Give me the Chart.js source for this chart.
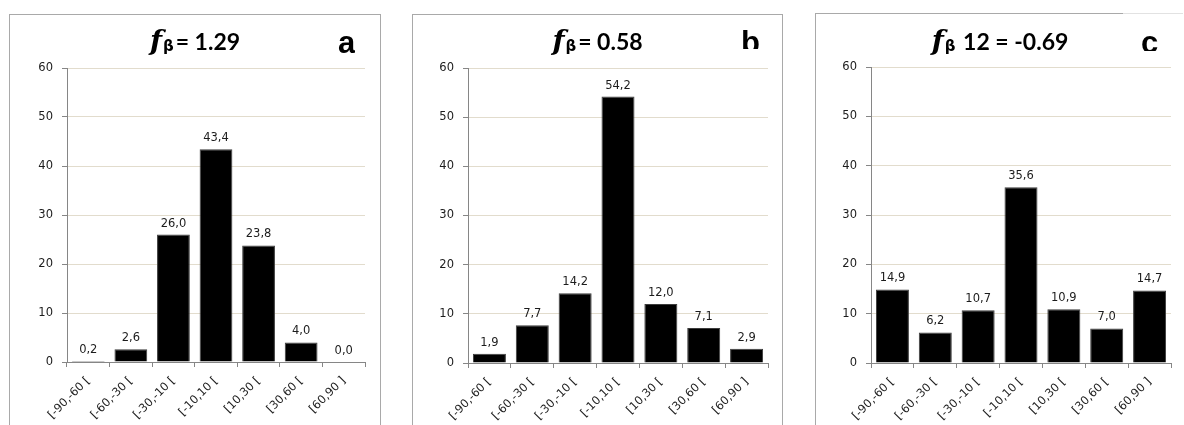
<!DOCTYPE html>
<html>
<head>
<meta charset="utf-8">
<script src="https://cdn.jsdelivr.net/npm/chart.js@4.4.1/dist/chart.umd.min.js"></script>
<style>
  html, body { margin: 0; padding: 0; background: #fff; }
  #wrap { position: relative; width: 1184px; height: 425px; overflow: hidden; background: #fff; }
  .frame { position: absolute; box-sizing: border-box; border: 1px solid #a9a9a9; border-bottom: none; height: 430px; }
  .line { position: absolute; height: 1px; }
  canvas { position: absolute; }
  .title { position: absolute; white-space: nowrap; text-align: center; line-height: 30px; height: 30px; color: #000; }
  .title .f { font-family: "DejaVu Serif", serif; font-weight: bold; font-style: italic; font-size: 28px; }
  .title .beta { font-family: "DejaVu Sans", sans-serif; font-weight: bold; font-size: 15px; position: relative; top: 1px; margin-left: 1px; }
  .title .eq { font-family: Lato, "Open Sans", sans-serif; font-weight: bold; font-size: 23px; margin-left: 2px; }
  .letter { position: absolute; overflow: hidden; font-family: "Liberation Sans", Arial, sans-serif; font-weight: bold; font-size: 31px; line-height: 34px; color: #000; }
</style>
</head>
<body>
<div id="wrap"></div>
<script>
// Angle classes shared by the three histograms
const categories = ['[-90,-60 [', '[-60,-30 [', '[-30,-10 [', '[-10,10 [', '[10,30 [', '[30,60 [', '[60,90 ]'];

// Percentage of cases in each class
const valuesA = [0.2, 2.6, 26.0, 43.4, 23.8, 4.0, 0.0];
const valuesB = [1.9, 7.7, 14.2, 54.2, 12.0, 7.1, 2.9];
const valuesC = [14.9, 6.2, 10.7, 35.6, 10.9, 7.0, 14.7];

// Headings and panel letters
const subscriptLabels = ['', '', ' 12'];
const titleValues = ['= 1.29', '= 0.58', ' = -0.69'];
const panelLetters = ['a', 'b', 'c'];

// Value axis
const yMax = 60;
const yStep = 10;

const panelData = [valuesA, valuesB, valuesC];

// Geometry of each panel on the page
const layout = [
  { frameL: 9,   frameW: 372, frameT: 14, canvasL: 10,  canvasW: 369, plotL: 67,  plotR: 365,  plotT: 68, plotB: 362, letterL: 338, letterH: 34 },
  { frameL: 412, frameW: 371, frameT: 14, canvasL: 413, canvasW: 369, plotL: 468, plotR: 768,  plotT: 68, plotB: 363, letterL: 741, letterH: 23 },
  { frameL: 815, frameW: 400, frameT: 13, canvasL: 816, canvasW: 368, plotL: 871, plotR: 1171, plotT: 67, plotB: 363, letterL: 1141, letterH: 25 }
];

const wrap = document.getElementById('wrap');
const fmt = v => v.toFixed(1).replace('.', ',');
const textFont = '"DejaVu Sans", Verdana, sans-serif';

// Value labels above each bar
const valueLabels = {
  id: 'valueLabels',
  afterDatasetsDraw(chart) {
    const ctx = chart.ctx;
    const meta = chart.getDatasetMeta(0);
    const data = chart.data.datasets[0].data;
    ctx.save();
    ctx.font = '11.5px ' + textFont;
    ctx.fillStyle = '#1c1c1c';
    ctx.textAlign = 'center';
    ctx.textBaseline = 'alphabetic';
    meta.data.forEach((bar, i) => {
      ctx.fillText(fmt(data[i]), bar.x, bar.y - 8);
    });
    ctx.restore();
  }
};

panelData.forEach((values, p) => {
  const L = layout[p];

  const frame = document.createElement('div');
  frame.className = 'frame';
  frame.style.left = L.frameL + 'px';
  frame.style.top = L.frameT + 'px';
  frame.style.width = L.frameW + 'px';
  if (p === 2) {
    frame.style.borderTop = 'none';
    const t1 = document.createElement('div');
    t1.className = 'line';
    t1.style.cssText = 'left:815px;top:13px;width:308px;background:#a9a9a9;';
    const t2 = document.createElement('div');
    t2.className = 'line';
    t2.style.cssText = 'left:1123px;top:13px;width:60px;background:#e2e2e2;';
    wrap.appendChild(t1);
    wrap.appendChild(t2);
  }
  wrap.appendChild(frame);

  const canvasT = L.frameT + 1;
  const canvasH = 425 - canvasT;
  const canvas = document.createElement('canvas');
  canvas.width = L.canvasW;
  canvas.height = canvasH;
  canvas.style.left = L.canvasL + 'px';
  canvas.style.top = canvasT + 'px';
  canvas.style.width = L.canvasW + 'px';
  canvas.style.height = canvasH + 'px';
  wrap.appendChild(canvas);

  const yWidth = L.plotL - L.canvasL;
  const xHeight = (canvasT + canvasH) - L.plotB;

  new Chart(canvas, {
    type: 'bar',
    data: {
      labels: categories,
      datasets: [{
        data: values,
        backgroundColor: '#000000',
        borderColor: '#3c3c3c',
        borderWidth: 1,
        categoryPercentage: 1,
        barPercentage: 0.77
      }]
    },
    options: {
      responsive: false,
      animation: false,
      devicePixelRatio: 1,
      layout: { padding: { top: L.plotT - canvasT, right: (L.canvasL + L.canvasW) - L.plotR, left: 0, bottom: 0 } },
      plugins: { legend: { display: false }, tooltip: { enabled: false }, title: { display: false } },
      scales: {
        x: {
          grid: { display: true, drawOnChartArea: false, offset: true, tickLength: 5, tickColor: '#868686', color: '#868686' },
          border: { display: true, color: '#868686', width: 1 },
          ticks: {
            minRotation: 45, maxRotation: 45, autoSkip: false, padding: 7,
            color: '#1c1c1c',
            font: { family: textFont, size: 11.5 }
          },
          afterFit(s) { s.height = xHeight; s.paddingLeft = 0; s.paddingRight = 0; }
        },
        y: {
          min: 0, max: yMax,
          grid: { color: '#e2dccd', tickColor: '#868686', tickLength: 5, lineWidth: 1 },
          border: { display: true, color: '#868686', width: 1 },
          ticks: {
            stepSize: yStep, padding: 9,
            color: '#1c1c1c',
            font: { family: textFont, size: 11.5 }
          },
          afterFit(s) { s.width = yWidth; s.paddingTop = 0; s.paddingBottom = 0; }
        }
      }
    },
    plugins: [valueLabels]
  });

  // Heading: f with beta subscript and the value
  const title = document.createElement('div');
  title.className = 'title';
  title.style.left = L.frameL + 'px';
  title.style.width = (p === 2 ? 370 : L.frameW) + 'px';
  title.style.top = '26px';
  const f = document.createElement('span'); f.className = 'f'; f.textContent = 'f';
  const b = document.createElement('span'); b.className = 'beta'; b.textContent = 'β';
  const e = document.createElement('span'); e.className = 'eq'; e.textContent = subscriptLabels[p] + titleValues[p];
  title.appendChild(f); title.appendChild(b); title.appendChild(e);
  wrap.appendChild(title);

  // Panel letter
  const letter = document.createElement('div');
  letter.className = 'letter';
  letter.style.left = L.letterL + 'px';
  letter.style.top = '26px';
  letter.style.height = L.letterH + 'px';
  letter.textContent = panelLetters[p];
  wrap.appendChild(letter);
});
</script>
</body>
</html>
